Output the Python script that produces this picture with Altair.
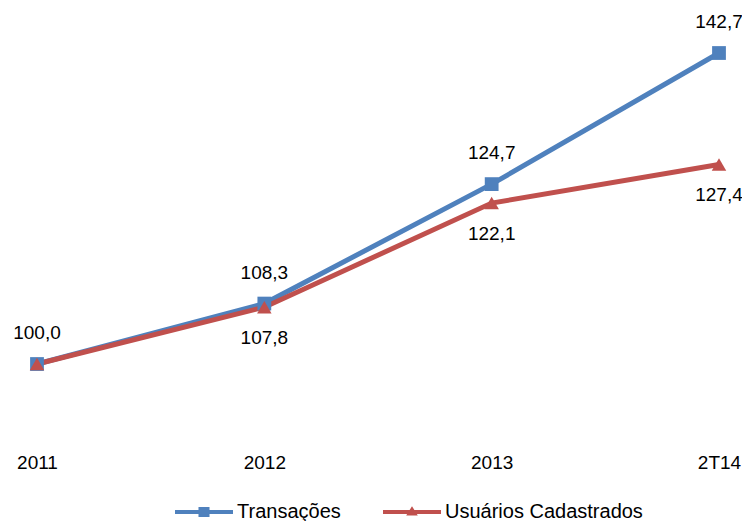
import altair as alt
import pandas as pd

periods = ["2011", "2012", "2013", "2T14"]
transacoes = [100.0, 108.3, 124.7, 142.7]
usuarios = [100.0, 107.8, 122.1, 127.4]
series_names = ["Transações", "Usuários Cadastrados"]
colors = ["#4F81BD", "#C0504D"]

rows = []
for i, p in enumerate(periods):
    rows.append({"periodo": p, "serie": series_names[0], "valor": transacoes[i],
                 "rotulo": f"{transacoes[i]:.1f}".replace(".", ","), "show": True})
    rows.append({"periodo": p, "serie": series_names[1], "valor": usuarios[i],
                 "rotulo": f"{usuarios[i]:.1f}".replace(".", ","), "show": i > 0})
df = pd.DataFrame(rows)

FONT = "Liberation Sans"
FS = 19

x = alt.X("periodo:O", sort=periods, scale=alt.Scale(type="point", range=[29, 711], padding=0),
          axis=alt.Axis(title=None, domain=False, ticks=False, labelAngle=0, labelPadding=5,
                        labelFontSize=FS, labelFont=FONT, labelColor="#000000", grid=False))
y = alt.Y("valor:Q", scale=alt.Scale(domain=[88.47, 148.88], zero=False, nice=False), axis=None)
color = alt.Color("serie:N", scale=alt.Scale(domain=series_names, range=colors), legend=None)

base = alt.Chart(df)

lines = base.mark_line(strokeWidth=5).encode(x=x, y=y, color=color)

sq = base.transform_filter(alt.datum.serie == series_names[0]).mark_point(
    shape="square", filled=True, size=190, opacity=1).encode(x=x, y=y, color=color)
tri = base.transform_filter(alt.datum.serie == series_names[1]).mark_point(
    shape="triangle-up", filled=True, size=210, opacity=1).encode(x=x, y=y, color=color)

lab_top = base.transform_filter(alt.datum.serie == series_names[0]).mark_text(
    dy=-31, fontSize=FS, font=FONT, color="#000000").encode(x=x, y=y, text="rotulo:N")
lab_bot = base.transform_filter((alt.datum.serie == series_names[1]) & alt.datum.show).mark_text(
    dy=31, fontSize=FS, font=FONT, color="#000000").encode(x=x, y=y, text="rotulo:N")

sym_sq = "M-1,-0.07 L1,-0.07 L1,0.07 L-1,0.07 Z M-0.19,-0.17 L0.19,-0.17 L0.19,0.17 L-0.19,0.17 Z"
sym_tri = "M-1,-0.07 L1,-0.07 L1,0.07 L-1,0.07 Z M0,-0.2 L0.2,0.12 L-0.2,0.12 Z"

leg = alt.Legend(title=None, orient="none", legendX=167, legendY=475,
                 direction="horizontal", labelFontSize=20, labelFont=FONT, labelLimit=0,
                 labelColor="#000000", labelOffset=4, columnPadding=42,
                 symbolStrokeWidth=0, symbolOpacity=1, symbolSize=3364)

legend_layer = base.transform_filter("false").mark_point(filled=True, size=3364, opacity=1).encode(
    x=x, y=y,
    color=alt.Color("serie:N", scale=alt.Scale(domain=series_names, range=colors), legend=leg),
    shape=alt.Shape("serie:N", scale=alt.Scale(domain=series_names, range=[sym_sq, sym_tri]),
                    legend=leg),
)

chart = alt.layer(legend_layer, lines, sq, tri, lab_top, lab_bot).properties(
    width=734, height=440, autosize=alt.AutoSizeParams(type="none"),
    padding={"left": 0, "top": 0, "right": 0, "bottom": 73},
    background="white"
).configure_view(stroke=None)

chart.save("out.html", embed_options={"renderer": "svg", "actions": False})
